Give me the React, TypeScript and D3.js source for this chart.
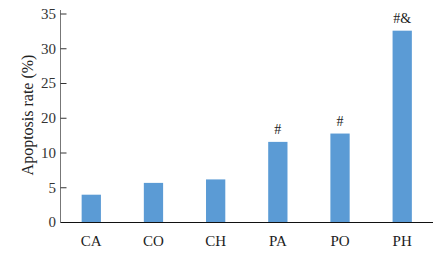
import React from "react";
import * as d3 from "d3";

const categories = ["CA", "CO", "CH", "PA", "PO", "PH"];
const values = [4.0, 5.7, 6.2, 11.6, 12.8, 27.6];
const annotations = ["", "", "", "#", "#", "#&"];
const tickValues = [0, 5, 10, 15, 20, 25, 30];
const tickLabels = ["0", "5", "10", "20", "25", "30", "35"];

export default function App() {
  const W = 445, H = 253;
  const left = 60.5, right = 433, top = 14, bottom = 222.5;
  const x = d3.scaleBand<string>().domain(categories).range([left, right]).paddingInner(0.69).paddingOuter(0.34);
  const y = d3.scaleLinear().domain([0, 30]).range([bottom, top]);
  const font = "Liberation Serif";
  return (
    <svg width={W} height={H} style={{ position: "absolute", left: 0, top: 0, background: "#fff" }}>
      {categories.map((c, i) => (
        <rect key={c} x={x(c)} y={y(values[i])} width={x.bandwidth()} height={y(0) - y(values[i])} fill="#5B9BD5" />
      ))}
      {categories.map((c, i) => annotations[i] ? (
        <text key={"a" + c} x={(x(c) as number) + x.bandwidth() / 2} y={y(values[i]) - 8} textAnchor="middle" fontFamily={font} fontSize={14} fill="#222">{annotations[i]}</text>
      ) : null)}
      <line x1={left} x2={left} y1={10} y2={bottom} stroke="#777" strokeWidth={1} />
      <line x1={left} x2={right} y1={bottom} y2={bottom} stroke="#111" strokeWidth={1.2} />
      {tickValues.map((t, i) => (
        <g key={t}>
          {t !== 0 && <line x1={left} x2={left + 6} y1={y(t)} y2={y(t)} stroke="#333" strokeWidth={1} />}
          <text x={56} y={y(t)} dy="0.33em" textAnchor="end" fontFamily={font} fontSize={15} fill="#333">{tickLabels[i]}</text>
        </g>
      ))}
      {categories.map((c) => (
        <text key={"l" + c} x={(x(c) as number) + x.bandwidth() / 2} y={246} textAnchor="middle" fontFamily={font} fontSize={15} fill="#222">{c}</text>
      ))}
      <text transform={`translate(33,115) rotate(-90)`} textAnchor="middle" fontFamily={font} fontSize={16} fill="#222">Apoptosis rate (%)</text>
    </svg>
  );
}
